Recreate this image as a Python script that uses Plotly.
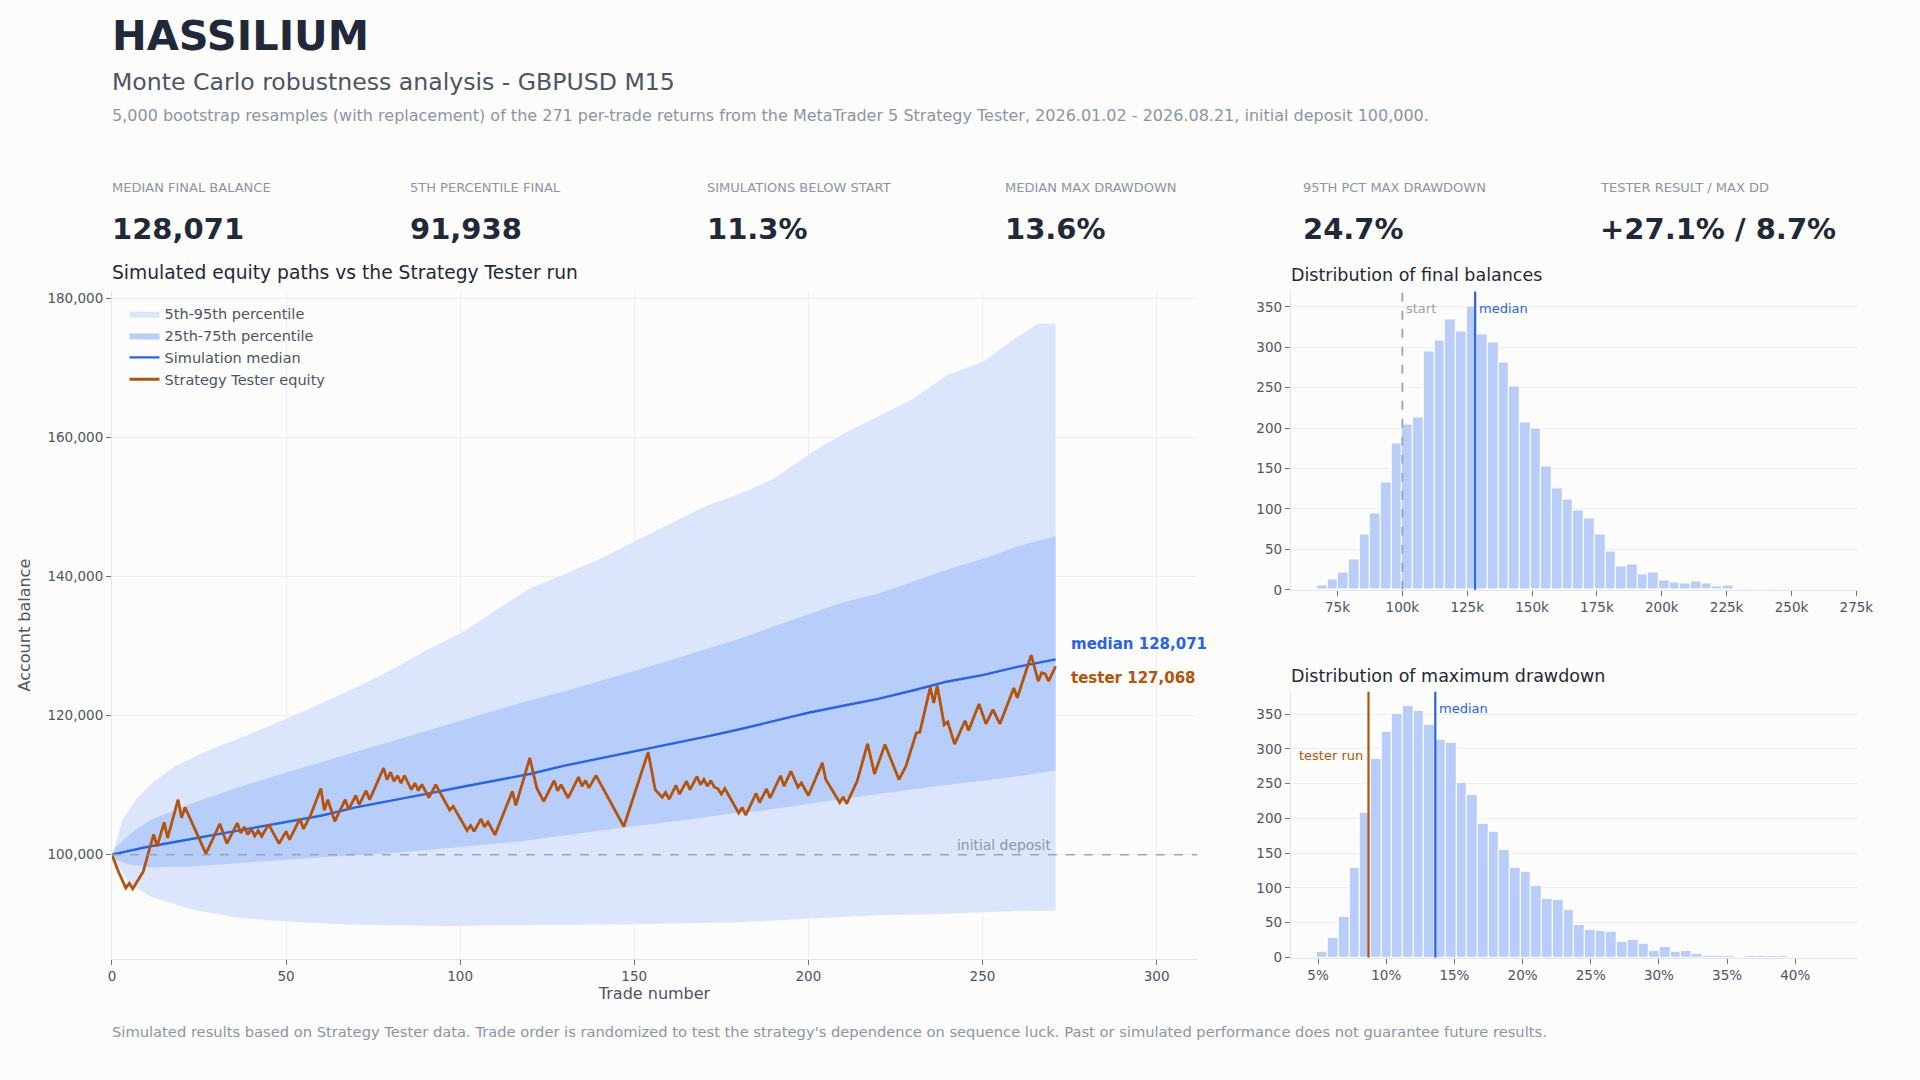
import numpy as np
import plotly.graph_objects as go

# ---------------- data ----------------
# Strategy Tester equity (trade number, balance)
tester_trade = [0, 2, 4, 5, 6, 9, 11, 12, 13, 15, 16, 19, 20, 21, 27, 31, 33, 36, 37, 38, 39, 40, 41, 42, 43,
                45, 48, 50, 51, 54, 55, 57, 60, 61, 62, 64, 67, 68, 70, 71, 73, 74, 78, 79, 80, 81, 82, 83, 84,
                86, 87, 88, 89, 91, 93, 97, 98, 102, 103, 104, 106, 107, 108, 110, 115, 116, 120, 122, 124,
                127, 128, 129, 131, 134, 135, 136, 137, 139, 147, 154, 156, 158, 159, 160, 162, 163, 165, 166,
                168, 169, 170, 171, 172, 173, 174, 175, 176, 180, 181, 182, 185, 186, 188, 189, 192, 193, 195,
                197, 198, 200, 204, 205, 209, 210, 211, 214, 217, 219, 222, 224, 226, 228, 231, 232, 235, 236,
                237, 239, 240, 242, 245, 246, 249, 251, 253, 255, 259, 260, 264, 266, 267, 268, 269, 271]
tester_balance = [100000, 97400, 95200, 95900, 95100, 97600, 101200, 102900, 101200, 104650, 102400, 107900,
                  105300, 106800, 100150, 104450, 101600, 104550, 103100, 104000, 102900, 103700, 102700,
                  103450, 102650, 104350, 101600, 103350, 102150, 105200, 103700, 105600, 109500, 106400,
                  107900, 104800, 107900, 106500, 108500, 107200, 109200, 107900, 112450, 110800, 111850,
                  110550, 111350, 110300, 111350, 109350, 110300, 109200, 110100, 108200, 110050, 106400,
                  106950, 103500, 104200, 103350, 105150, 104000, 104700, 102850, 109100, 107100, 113900,
                  109600, 107650, 110650, 109200, 110050, 108150, 111150, 109850, 110650, 109600, 111400,
                  104050, 114750, 109350, 108250, 108950, 108000, 109950, 108700, 110550, 109350, 111250,
                  110050, 110800, 109850, 110650, 109700, 109500, 108700, 109500, 106000, 106800, 105700,
                  108800, 107500, 109450, 108150, 111350, 109850, 112000, 109700, 110300, 108500, 113200,
                  110800, 107500, 108300, 107350, 110550, 115950, 111600, 115850, 113200, 110800, 112700,
                  117500, 117600, 124050, 121800, 124300, 118700, 119100, 115900, 119250, 117850, 121650,
                  118800, 120850, 118800, 123950, 122550, 128700, 124950, 126150, 126000, 124950, 127068]

# Simulation median
median_trade = [0, 5, 10, 20, 30, 40, 50, 60, 70, 80, 90, 100, 110, 120, 130, 140, 150, 160, 170, 180,
                190, 200, 210, 220, 230, 240, 250, 260, 271]
median_balance = [100000, 100600, 101100, 102000, 102900, 103900, 104800, 105600, 106800, 107700, 108700,
                  109700, 110600, 111600, 112800, 113800, 114800, 115900, 116900, 118000, 119200, 120400,
                  121400, 122400, 123600, 124900, 125800, 127000, 128071]

# 95th percentile
p95_trade = [0, 1, 3, 7, 12, 18, 28, 37, 50, 60, 70, 80, 90, 100, 110, 120, 130, 140, 150, 160, 170, 180,
             190, 200, 210, 220, 230, 240, 250, 260, 266, 271]
p95_balance = [100000, 101500, 105000, 108000, 110500, 112700, 115100, 116800, 119500, 121800, 124000,
               126500, 129300, 131800, 135000, 138300, 140300, 142500, 145000, 147500, 150000, 151800,
               154000, 157500, 160500, 163000, 165500, 169000, 170800, 174400, 176300, 176300]
# 5th percentile
p05_trade = [0, 1, 5, 11, 23, 37, 50, 66, 96, 120, 150, 180, 200, 220, 240, 260, 271]
p05_balance = [100000, 99000, 95900, 94000, 92100, 90900, 90400, 90000, 89700, 89900, 90000, 90300,
               90800, 91300, 91500, 91900, 91938]
# 75th percentile
p75_trade = [0, 1, 5, 11, 23, 37, 50, 66, 80, 90, 100, 110, 120, 130, 140, 150, 160, 170, 180, 190, 200,
             210, 220, 230, 240, 250, 260, 271]
p75_balance = [100000, 101000, 102900, 105000, 107400, 109800, 111800, 114200, 116300, 117800, 119300,
               120800, 122200, 123500, 124900, 126400, 127900, 129400, 131000, 132800, 134500, 136300,
               137500, 139300, 141000, 142500, 144300, 145800]
# 25th percentile
p25_trade = [0, 1, 5, 11, 23, 37, 50, 66, 80, 89, 100, 117, 130, 147, 165, 179, 185, 208, 236, 255, 271]
p25_balance = [100000, 99300, 98600, 98200, 98300, 98800, 99200, 99800, 100200, 100600, 101100, 101900,
               102800, 103900, 105000, 106000, 106200, 107900, 109800, 110900, 112100]

# Distribution of final balances (bin start, bin width, counts)
bal_bin_start = 67000
bal_bin_width = 4120
bal_counts = [6, 13, 21, 37, 69, 94, 133, 181, 204, 213, 295, 308, 334, 319, 350, 316, 306, 281, 251, 207,
              200, 152, 126, 112, 98, 88, 69, 48, 29, 32, 19, 21, 12, 9, 8, 11, 8, 4, 5, 2, 2, 1, 2]

# Distribution of maximum drawdown (%)
dd_bin_start = 4.94
dd_bin_width = 0.785
dd_counts = [8, 28, 58, 129, 208, 285, 325, 350, 362, 355, 335, 313, 309, 251, 234, 192, 181, 155, 129, 123,
             103, 84, 83, 68, 47, 40, 38, 37, 22, 25, 19, 9, 15, 8, 9, 6, 3, 2, 2, 0, 2, 3, 2, 3]

kpi_labels = ["MEDIAN FINAL BALANCE", "5TH PERCENTILE FINAL", "SIMULATIONS BELOW START",
              "MEDIAN MAX DRAWDOWN", "95TH PCT MAX DRAWDOWN", "TESTER RESULT / MAX DD"]
kpi_values = ["128,071", "91,938", "11.3%", "13.6%", "24.7%", "+27.1% / 8.7%"]

initial_deposit = 100000
median_final = 128071
tester_final = 127068
median_dd = 13.6
tester_dd = 8.7

# ---------------- style ----------------
PAGE_MARGIN = 8
W, H = 1920 - 2 * PAGE_MARGIN, 1080 - 2 * PAGE_MARGIN
FONT = "DejaVu Sans"
BG = "#fcfcfb"
DARK = "#1f2937"
MID = "#4b5563"
MUTED = "#8b95a5"
GRID = "#eceef3"
AXLINE = "#e2e5ec"
BLUE = "#2563eb"
ORANGE = "#b45309"
BAND_OUT = "#dbe6fd"
BAND_IN = "#b8cefa"
BAR = "#b8cdf8"


def px(x):
    # target page pixel -> paper fraction (with small calibration of the capture)
    x = (x - 3.58) / 0.9898
    return (x - PAGE_MARGIN) / W


def py(y):
    y = (y - 2.08) / 0.9889
    return 1 - (y - PAGE_MARGIN) / H


fig = go.Figure()

# bands
fig.add_trace(go.Scatter(
    x=p95_trade + p05_trade[::-1], y=p95_balance + p05_balance[::-1],
    fill="toself", fillcolor=BAND_OUT, line=dict(width=0), mode="lines",
    name="5th-95th percentile", hoverinfo="skip", xaxis="x", yaxis="y"))
fig.add_trace(go.Scatter(
    x=p75_trade + p25_trade[::-1], y=p75_balance + p25_balance[::-1],
    fill="toself", fillcolor=BAND_IN, line=dict(width=0), mode="lines",
    name="25th-75th percentile", hoverinfo="skip", xaxis="x", yaxis="y"))
fig.add_trace(go.Scatter(
    x=median_trade, y=median_balance, mode="lines", line=dict(color=BLUE, width=2.4),
    name="Simulation median", xaxis="x", yaxis="y"))
fig.add_trace(go.Scatter(
    x=tester_trade, y=tester_balance, mode="lines", line=dict(color=ORANGE, width=2.8),
    name="Strategy Tester equity", xaxis="x", yaxis="y"))

# histograms
bal_centers = bal_bin_start + bal_bin_width * (np.arange(len(bal_counts)) + 0.5)
dd_centers = dd_bin_start + dd_bin_width * (np.arange(len(dd_counts)) + 0.5)
fig.add_trace(go.Bar(
    x=bal_centers, y=bal_counts, width=bal_bin_width, marker=dict(color=BAR, line=dict(color="#ffffff", width=1)),
    showlegend=False, xaxis="x2", yaxis="y2"))
fig.add_trace(go.Bar(
    x=dd_centers, y=dd_counts, width=dd_bin_width, marker=dict(color=BAR, line=dict(color="#ffffff", width=1)),
    showlegend=False, xaxis="x3", yaxis="y3"))

tickfont = dict(family=FONT, size=13.5, color=MID)
axis_common = dict(tickfont=tickfont, ticks="outside", ticklen=5, tickcolor="#6b7280",
                   showline=True, linecolor=AXLINE, linewidth=1, zeroline=False, gridcolor=GRID)

fig.update_layout(
    width=W, height=H, paper_bgcolor=BG, plot_bgcolor=BG,
    margin=dict(l=0, r=0, t=0, b=0),
    font=dict(family=FONT, color=MID),
    bargap=0,
    xaxis=dict(domain=[px(111.4), px(1196.4)], range=[0, 311.65], dtick=50, showgrid=True,
               title=dict(text="Trade number", font=dict(family=FONT, size=16, color=MID), standoff=4),
               anchor="y", **axis_common),
    yaxis=dict(domain=[py(957.5), py(291.4)], range=[85000, 181000], dtick=20000, tickformat=",",
               showgrid=True,
               title=dict(text="Account balance", font=dict(family=FONT, size=16, color=MID), standoff=12),
               anchor="x", **axis_common),
    xaxis2=dict(domain=[px(1290), px(1857)], range=[57000, 275600], tick0=0, dtick=25000, tickformat="~s",
                showgrid=False, anchor="y2", **axis_common),
    yaxis2=dict(domain=[py(589.3), py(291.7)], range=[0, 369], dtick=50, showgrid=True, anchor="x2",
                **axis_common),
    xaxis3=dict(domain=[px(1290), px(1857)], range=[3.0, 44.6], tick0=0, dtick=5, ticksuffix="%",
                showgrid=False, anchor="y3", **axis_common),
    yaxis3=dict(domain=[py(956), py(691)], range=[0, 382], dtick=50, showgrid=True, anchor="x3",
                **axis_common),
    legend=dict(x=px(124), y=py(298), xanchor="left", yanchor="top", bgcolor="rgba(0,0,0,0)",
                font=dict(family=FONT, size=14.5, color=MID), tracegroupgap=0, itemwidth=30),
    showlegend=True,
)

shapes = []
# initial deposit line
shapes.append(dict(type="line", xref="x domain", yref="y", x0=0, x1=1, y0=initial_deposit, y1=initial_deposit,
                   line=dict(color="#9ca3af", width=1.5, dash="dash"), layer="above"))
# start / median lines in final balance histogram
shapes.append(dict(type="line", xref="x2", yref="y2 domain", x0=initial_deposit, x1=initial_deposit, y0=0, y1=1,
                   line=dict(color="#9ca3af", width=1.8, dash="dash"), layer="above"))
shapes.append(dict(type="line", xref="x2", yref="y2 domain", x0=median_final, x1=median_final, y0=0, y1=1,
                   line=dict(color=BLUE, width=2.2), layer="above"))
# tester / median lines in drawdown histogram
shapes.append(dict(type="line", xref="x3", yref="y3 domain", x0=tester_dd, x1=tester_dd, y0=0, y1=1,
                   line=dict(color=ORANGE, width=2.2), layer="above"))
shapes.append(dict(type="line", xref="x3", yref="y3 domain", x0=median_dd, x1=median_dd, y0=0, y1=1,
                   line=dict(color=BLUE, width=2.2), layer="above"))
fig.update_layout(shapes=shapes)

ann = []


def text(x, y, s, size, color, bold=False, xanchor="left", yanchor="middle", **kw):
    ann.append(dict(x=x, y=y, xref=kw.pop("xref", "paper"), yref=kw.pop("yref", "paper"),
                    text=f"<b>{s}</b>" if bold else s, showarrow=False, xanchor=xanchor, yanchor=yanchor,
                    font=dict(family=FONT, size=size, color=color), **kw))


text(px(109), py(36), "HASSILIUM", 41.5, DARK, bold=True)
text(px(109), py(83), "Monte Carlo robustness analysis - GBPUSD M15", 23.6, MID)
text(px(109), py(116.5), "5,000 bootstrap resamples (with replacement) of the 271 per-trade returns from the "
     "MetaTrader 5 Strategy Tester, 2026.01.02 - 2026.08.21, initial deposit 100,000.", 16, MUTED)

kpi_x = [111.4, 409.0, 706.6, 1004.2, 1301.8, 1599.4]
for i in range(len(kpi_labels)):
    text(px(kpi_x[i] - 2), py(188.5), kpi_labels[i], 13, MUTED)
    text(px(kpi_x[i] - 2), py(229), kpi_values[i], 29, DARK, bold=True)

text(px(109), py(273), "Simulated equity paths vs the Strategy Tester run", 18.7, DARK)
text(px(1288), py(275), "Distribution of final balances", 17.5, DARK)
text(px(1288), py(675), "Distribution of maximum drawdown", 17.5, DARK)

text(px(109), py(1030), "Simulated results based on Strategy Tester data. Trade order is randomized to test the "
     "strategy's dependence on sequence luck. Past or simulated performance does not guarantee future results.",
     14.7, MUTED)

# main chart labels
text(271, initial_deposit, "initial deposit", 13.9, MUTED, xanchor="right", yanchor="bottom",
     xref="x", yref="y", xshift=-3, yshift=0)
text(271, median_final, f"median {median_final:,}", 15, BLUE, bold=True, xref="x", yref="y",
     xshift=13, yshift=15)
text(271, tester_final, f"tester {tester_final:,}", 15, ORANGE, bold=True, xref="x", yref="y",
     xshift=13, yshift=-12)

# histogram labels
text(initial_deposit, 0.943, "start", 13, "#9ca3af", xref="x2", yref="y2 domain", xshift=2)
text(median_final, 0.943, "median", 13, BLUE, xref="x2", yref="y2 domain", xshift=2)
text(median_dd, 0.938, "median", 13, BLUE, xref="x3", yref="y3 domain", xshift=2)
text(tester_dd, 0.762, "tester run", 13, ORANGE, xanchor="right", xref="x3", yref="y3 domain", xshift=-3)

fig.update_layout(annotations=ann)

fig.write_html("out.html", config={"displayModeBar": False},
               post_script="document.body.style.background='%s';document.body.style.overflow='hidden';" % BG)
